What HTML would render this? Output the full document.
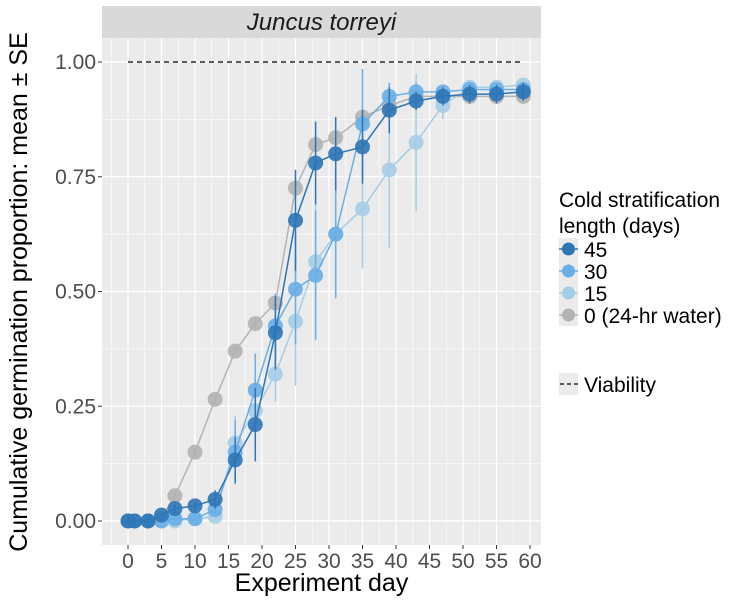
<!DOCTYPE html>
<html><head><meta charset="utf-8"><style>
body{margin:0;background:#fff;}
svg{font-family:"Liberation Sans",Arial,sans-serif;}
</style></head><body>
<svg id="chart" width="754" height="603" viewBox="0 0 754 603"></svg>
<script>
const days=[0,1,3,5,7,10,13,16,19,22,25,28,31,35,39,43,47,51,55,59];
const s45=[0,0,0,0.013,0.027,0.033,0.047,0.133,0.21,0.41,0.655,0.78,0.80,0.815,0.895,0.915,0.925,0.93,0.93,0.935];
const s30=[0,0,0,0,0.005,0.005,0.025,0.15,0.285,0.425,0.505,0.535,0.625,0.865,0.925,0.935,0.935,0.94,0.94,0.94];
const s15=[0,0,0,0,0,0.005,0.01,0.17,0.24,0.32,0.435,0.565,0.625,0.68,0.765,0.825,0.905,0.945,0.945,0.95];
const s0=[0,0,0,0.005,0.055,0.15,0.265,0.37,0.43,0.475,0.725,0.82,0.835,0.88,0.905,0.925,0.925,0.925,0.925,0.925];
const se45=[0,0,0,0.005,0.01,0.01,0.02,0.05,0.08,0.08,0.11,0.09,0.08,0.08,0.05,0.02,0.02,0.02,0.02,0.02];
const se30=[0,0,0,0,0.003,0.003,0.01,0.07,0.08,0.07,0.12,0.14,0.14,0.12,0.03,0.02,0.01,0.01,0.01,0.01];
const se15=[0,0,0,0,0,0.003,0.005,0.06,0.07,0.06,0.14,0.15,0.13,0.13,0.17,0.15,0.03,0.01,0.01,0.01];
const se0=[0,0,0,0.003,0.01,0.01,0.01,0.01,0.01,0.01,0.02,0.02,0.01,0.01,0.01,0.01,0.01,0.01,0.01,0.01];
const yTicks=[0,0.25,0.5,0.75,1];
const yLabels=["0.00","0.25","0.50","0.75","1.00"];
const xTicks=[0,5,10,15,20,25,30,35,40,45,50,55,60];
const viability=1;

const NS="http://www.w3.org/2000/svg";
const svg=document.getElementById('chart');
const L=102,R=541,T=38,B=545;
const X=d=>128+d*(530-128)/60;
const Y=v=>521-v*(521-62);
function el(tag,attrs,parent){const e=document.createElementNS(NS,tag);for(const k in attrs)e.setAttribute(k,attrs[k]);(parent||svg).appendChild(e);return e;}

let strip=el('rect',{x:L,y:6,width:R-L,height:T-6,fill:'#d9d9d9'});


let st=el('text',{x:(L+R)/2,y:30,'text-anchor':'middle','font-size':24,'font-style':'italic',fill:'#1a1a1a'});
st.textContent='Juncus torreyi';


let panel=el('rect',{x:L,y:T,width:R-L,height:B-T,fill:'#ebebeb'});


for(let i=0;i<yTicks.length-1;i++){const v=(yTicks[i]+yTicks[i+1])/2;el('line',{x1:L,x2:R,y1:Y(v),y2:Y(v),stroke:'#fff','stroke-width':0.6});}
for(let d=-2.5;d<=62.5;d+=5){if(X(d)>L&&X(d)<R)el('line',{x1:X(d),x2:X(d),y1:T,y2:B,stroke:'#fff','stroke-width':0.6});}
yTicks.forEach((v,i)=>{
 el('line',{x1:L,x2:R,y1:Y(v),y2:Y(v),stroke:'#fff','stroke-width':1.2});
 el('line',{x1:L-4,x2:L,y1:Y(v),y2:Y(v),stroke:'#333','stroke-width':1});
 let t=el('text',{x:L-6,y:Y(v)+7,'text-anchor':'end','font-size':21,fill:'#4d4d4d'});
 t.textContent=yLabels[i];
 
 
});
xTicks.forEach(d=>{
 el('line',{x1:X(d),x2:X(d),y1:T,y2:B,stroke:'#fff','stroke-width':1.2});
 el('line',{x1:X(d),x2:X(d),y1:B,y2:B+4,stroke:'#333','stroke-width':1});
 let t=el('text',{x:X(d),y:B+23,'text-anchor':'middle','font-size':21,fill:'#4d4d4d'});
 t.textContent=d;
 
 
});
let vl=el('line',{x1:X(0),x2:X(58.5),y1:Y(viability),y2:Y(viability),stroke:'#000','stroke-width':1.2,'stroke-dasharray':'5,4'});


const series=[
 {name:'0',v:s0,se:se0,c:'#b3b3b3'},
 {name:'15',v:s15,se:se15,c:'#a6cde6'},
 {name:'30',v:s30,se:se30,c:'#6aaee6'},
 {name:'45',v:s45,se:se45,c:'#2e75b6'}];
series.forEach(s=>{
 const g=el('g',{});
 
 
 s.v.forEach((v,i)=>{if(s.se[i]>0)el('line',{x1:X(days[i]),x2:X(days[i]),y1:Y(v-s.se[i]),y2:Y(v+s.se[i]),stroke:s.c,'stroke-width':1.5},g);});
 el('polyline',{points:s.v.map((v,i)=>X(days[i])+','+Y(v)).join(' '),fill:'none',stroke:s.c,'stroke-width':1.5},g);
 s.v.forEach((v,i)=>{const p=el('circle',{cx:X(days[i]),cy:Y(v),r:7.5,fill:s.c,'fill-opacity':0.9},g);
  
  });
});
let xt=el('text',{x:(L+R)/2,y:591,'text-anchor':'middle','font-size':25,fill:'#000'});
xt.textContent='Experiment day';


let yt=el('text',{x:0,y:0,'text-anchor':'middle','font-size':25,fill:'#000',transform:'translate(27,292) rotate(-90)'});
yt.textContent='Cumulative germination proportion: mean ± SE';


[['Cold stratification',207],['length (days)',233]].forEach(a=>{let t=el('text',{x:559,y:a[1],'font-size':21,fill:'#000'});t.textContent=a[0];
 
 });
const leg=[['45','#2e75b6'],['30','#6aaee6'],['15','#a6cde6'],['0 (24-hr water)','#b3b3b3']];
leg.forEach((a,i)=>{const cy=249+i*22;
 const g=el('g',{});
 
 
 el('rect',{x:559,y:cy-11,width:19,height:22,fill:'#ebebeb'},g);
 el('line',{x1:559,x2:578,y1:cy,y2:cy,stroke:a[1],'stroke-width':1.5},g);
 el('circle',{cx:568.5,cy:cy,r:6.5,fill:a[1]},g);
 let t=el('text',{x:584,y:cy+8,'font-size':21,fill:'#000'},g);t.textContent=a[0];});
const vg=el('g',{});


el('rect',{x:559,y:373,width:19,height:22,fill:'#ebebeb'},vg);
el('line',{x1:560,x2:578,y1:384,y2:384,stroke:'#000','stroke-width':1.2,'stroke-dasharray':'4,3'},vg);
let vt=el('text',{x:584,y:392,'font-size':21,fill:'#000'},vg);vt.textContent='Viability';
</script>
</body></html>
